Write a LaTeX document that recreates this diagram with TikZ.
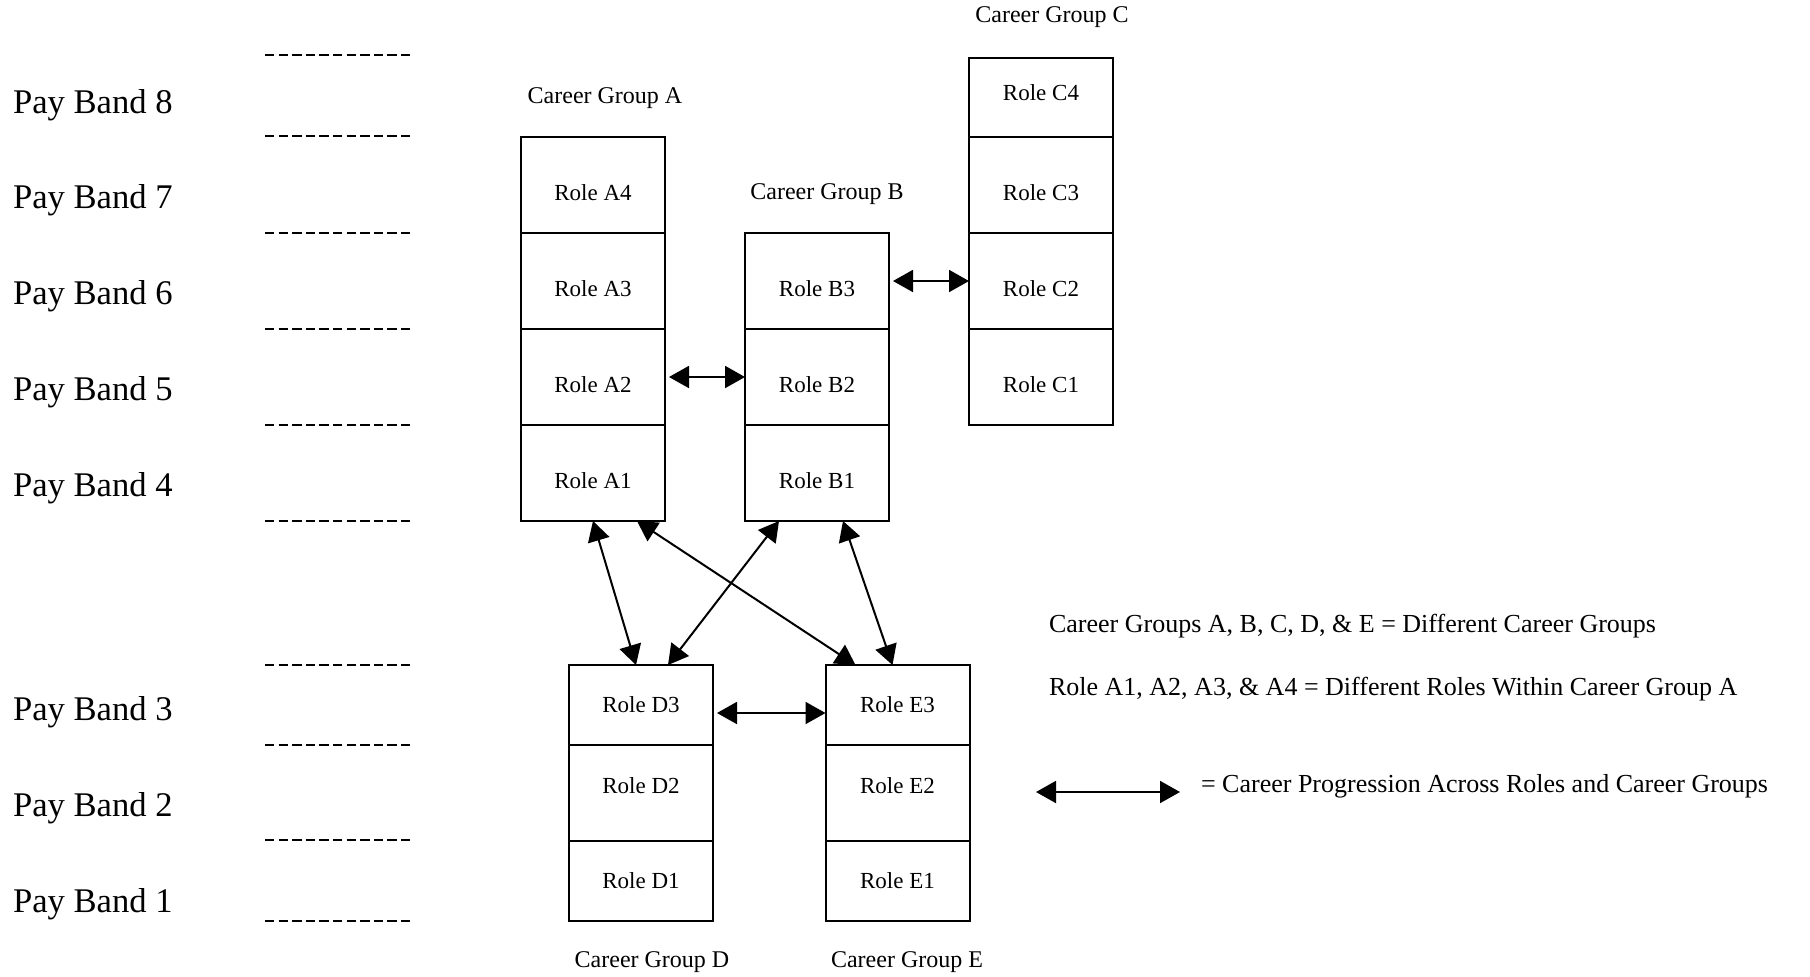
\documentclass[tikz,border=0pt]{standalone}
\usepackage{fontspec}
\setmainfont{Liberation Serif}
\usetikzlibrary{positioning,arrows.meta}

\begin{document}
\begin{tikzpicture}[x=0.5pt, y=-0.5pt
% Box styles
		, cell/.style={rectangle
							    , draw=black, line width=1pt
							    , minimum width=72pt
							    , inner sep=0pt
							    , outer sep=0pt
							    , text centered
							    , font=\fontsize{11.5}{14}\selectfont}
		, role/.style={cell
							    , minimum height=48pt
							    , text height=15pt, text depth=0pt}
		, mid role/.style={cell
							    , minimum height=48pt
							    , text height=0pt, text depth=0pt}
		, short role/.style={cell
							    , minimum height=40pt}
		, top role/.style={cell
							    , minimum height=39.5pt
							    , text height=3pt, text depth=0pt}
% Text styles
		, group/.style={font=\fontsize{12}{14}\selectfont}
		, band/.style={anchor=west
							    , font=\fontsize{17.3}{20}\selectfont}
		, key/.style={anchor=west
							    , font=\fontsize{13}{15}\selectfont}
% Lines
		, divider/.style={line width=1pt
							    , dash pattern=on 4.7pt off 2.1pt}
		, link/.style={line width=1pt
							    , <->
							    , >={Triangle[length=10pt,width=11pt]}}
	]
	\useasboundingbox (0,0) rectangle (1810,976);

%% Pay bands
	\node [band] (pb8) at (6,105) {Pay Band 8};
	\node [band] (pb7) at (6,200) {Pay Band 7};
	\node [band] (pb6) at (6,296) {Pay Band 6};
	\node [band] (pb5) at (6,392) {Pay Band 5};
	\node [band] (pb4) at (6,488) {Pay Band 4};
	\node [band] (pb3) at (6,712) {Pay Band 3};
	\node [band] (pb2) at (6,808) {Pay Band 2};
	\node [band] (pb1) at (6,904) {Pay Band 1};

	\draw [divider] (265,55) -- (412,55);
	\draw [divider] (265,136) -- (412,136);
	\draw [divider] (265,233) -- (412,233);
	\draw [divider] (265,329) -- (412,329);
	\draw [divider] (265,425) -- (412,425);
	\draw [divider] (265,521) -- (412,521);
	\draw [divider] (265,665) -- (412,665);
	\draw [divider] (265,745) -- (412,745);
	\draw [divider] (265,840) -- (412,840);
	\draw [divider] (265,921) -- (412,921);

%% Career group A
	\node [role] (gAr4) at (593,185) {Role A4};
	\node [role] (gAr3) [below=0pt of gAr4] {Role A3};
	\node [role] (gAr2) [below=0pt of gAr3] {Role A2};
	\node [role] (gAr1) [below=0pt of gAr2] {Role A1};
	\node [group] (gA) at (605,98) {Career Group A};

%% Career group B
	\node [role] (gBr3) at (817,281) {Role B3};
	\node [role] (gBr2) [below=0pt of gBr3] {Role B2};
	\node [role] (gBr1) [below=0pt of gBr2] {Role B1};
	\node [group] (gB) at (827,194) {Career Group B};

%% Career group C
	\node [top role] (gCr4) at (1041,97.5) {Role C4};
	\node [role] (gCr3) [below=0pt of gCr4] {Role C3};
	\node [role] (gCr2) [below=0pt of gCr3] {Role C2};
	\node [role] (gCr1) [below=0pt of gCr2] {Role C1};
	\node [group] (gC) at (1052,17) {Career Group C};

%% Career group D
	\node [short role] (gDr3) at (641,705) {Role D3};
	\node [mid role] (gDr2) [below=0pt of gDr3] {Role D2};
	\node [short role] (gDr1) [below=0pt of gDr2] {Role D1};
	\node [group] (gD) at (652,962) {Career Group D};

%% Career group E
	\node [short role] (gEr3) at (897.5,705) {Role E3};
	\node [mid role] (gEr2) [below=0pt of gEr3] {Role E2};
	\node [short role] (gEr1) [below=0pt of gEr2] {Role E1};
	\node [group] (gE) at (907,962) {Career Group E};

%% Progression
	\draw [link] ([xshift=2pt]gAr2.east) -- (gBr2.west);
	\draw [link] ([xshift=2pt]gBr3.east) -- (gCr2.west);
	\draw [link] ([xshift=2pt,yshift=-4pt]gDr3.east) -- ([yshift=-4pt]gEr3.west);
	\draw [link] (gAr1.south) -- ([xshift=-2.5pt]gDr3.north);
	\draw [link] ([xshift=22pt]gAr1.south) -- ([xshift=-21pt]gEr3.north);
	\draw [link] ([xshift=-19pt]gBr1.south) -- ([xshift=13.5pt]gDr3.north);
	\draw [link] ([xshift=13pt]gBr1.south) -- ([xshift=-2.5pt]gEr3.north);

%% Key
	\node [key] (k1) at (1042,626) {Career Groups A, B, C, D, \& E = Different Career Groups};
	\node [key] (k2) at (1042,689) {Role A1, A2, A3, \& A4 = Different Roles Within Career Group A};
	\coordinate (kl) at (1036,792);
	\coordinate (kr) at (1180,792);
	\draw [link] (kl) -- (kr);
	\node [key] (k3) at (1194,786) {= Career Progression Across Roles and Career Groups};
\end{tikzpicture}
\end{document}
